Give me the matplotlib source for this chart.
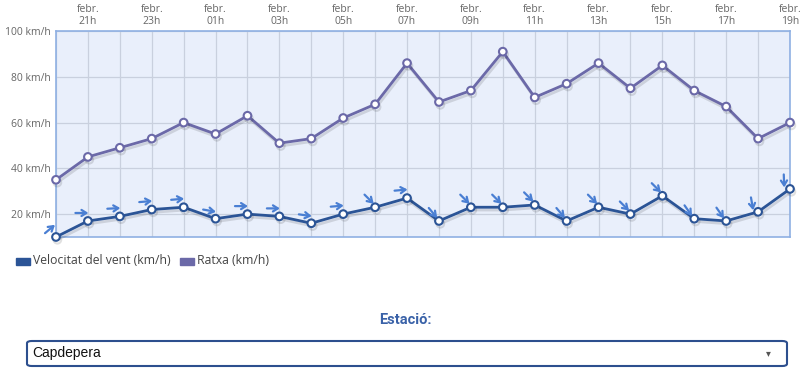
import matplotlib
matplotlib.use('Agg')
import matplotlib.pyplot as plt
import matplotlib.patheffects as pe
from matplotlib.patches import FancyBboxPatch, Rectangle
from matplotlib.transforms import offset_copy
import numpy as np

hores = ['20h', '21h', '22h', '23h', '00h', '01h', '02h', '03h', '04h', '05h', '06h', '07h',
         '08h', '09h', '10h', '11h', '12h', '13h', '14h', '15h', '16h', '17h', '18h', '19h']
velocitat = [10, 17, 19, 22, 23, 18, 20, 19, 16, 20, 23, 27,
             17, 23, 23, 24, 17, 23, 20, 28, 18, 17, 21, 31]
ratxa = [35, 45, 49, 53, 60, 55, 63, 51, 53, 62, 68, 86,
         69, 74, 91, 71, 77, 86, 75, 85, 74, 67, 53, 60]
# angle (graus) cap on apunta la fletxa de direccio
direccio = [40, 0, 3, 5, 5, -10, 0, 0, -8, 5, -45, 5,
            -50, -45, -45, -45, -50, -45, -45, -45, -55, -55, -80, -88]

C_VENT = '#2b5496'
C_RATXA = '#6b69a8'
C_FLETXA = '#4a7fd3'
C_TEXT = '#666666'

plt.rcParams['font.family'] = ['Open Sans', 'DejaVu Sans']

fig = plt.figure(figsize=(8, 3.7), dpi=100)
ax = fig.add_axes([0.07, 0.3595, 0.9175, 0.5565])
ax.set_facecolor('#e9effb')

x = np.arange(len(hores))
ombra = [pe.SimpleLineShadow(offset=(1, -2), alpha=0.12), pe.Normal()]
ax.plot(x, ratxa, color=C_RATXA, lw=2, marker='o', ms=5.5, mfc='white', mec=C_RATXA,
        mew=1.5, path_effects=ombra, zorder=3, clip_on=False)
ax.plot(x, velocitat, color=C_VENT, lw=2, marker='o', ms=5.5, mfc='white', mec=C_VENT,
        mew=1.5, path_effects=ombra, zorder=3, clip_on=False)

# fletxes de direccio del vent
L = 13
cx, cy = -6, 8
for xi, yi, a in zip(x, velocitat, direccio):
    dx, dy = np.cos(np.radians(a)) * L / 2, np.sin(np.radians(a)) * L / 2
    cap = offset_copy(ax.transData, fig=fig, x=cx + dx, y=cy + dy, units='dots')
    ax.annotate('', xy=(xi, yi), xycoords=cap, xytext=(-2 * dx, -2 * dy),
                textcoords='offset pixels',
                arrowprops=dict(arrowstyle='->,head_length=0.35,head_width=0.22',
                                color=C_FLETXA, lw=1.6, shrinkA=0, shrinkB=0),
                annotation_clip=False, zorder=4)

ax.set_xlim(0, len(hores) - 1)
ax.set_ylim(10, 100)
ax.set_xticks(x, minor=True)
ax.set_xticks(x[1::2])
ax.set_xticklabels(['febr.\n' + h for h in hores[1::2]], fontsize=7.5, color=C_TEXT,
                   linespacing=1.15)
ax.xaxis.tick_top()
ax.set_yticks([20, 40, 60, 80, 100])
ax.set_yticklabels([f'{v} km/h' for v in [20, 40, 60, 80, 100]], fontsize=7.5, color=C_TEXT)
ax.tick_params(which='both', length=0, pad=4)
ax.tick_params(axis='x', pad=3)
ax.grid(True, which='both', color='#c9d0de', lw=0.9)
ax.set_axisbelow(True)
for s in ax.spines.values():
    s.set_color('#8fb0e3')
    s.set_linewidth(1.2)

# llegenda
fig.patches.append(Rectangle((16 / 800, 1 - 265 / 370), 14 / 800, 7 / 370,
                             transform=fig.transFigure, color=C_VENT))
fig.text(33 / 800, 1 - 261 / 370, 'Velocitat del vent (km/h)', fontsize=8.8,
         color='#444444', va='center')
fig.patches.append(Rectangle((180 / 800, 1 - 265 / 370), 14 / 800, 7 / 370,
                             transform=fig.transFigure, color=C_RATXA))
fig.text(197 / 800, 1 - 261 / 370, 'Ratxa (km/h)', fontsize=8.8, color='#444444',
         va='center')

# selector d'estacio
fig.text(405 / 800, 1 - 320 / 370, 'Estació:', fontsize=10.5, fontweight='bold',
         color='#3a62a8', ha='center', va='center',
         family=['Liberation Sans Narrow', 'Roboto', 'DejaVu Sans'])
fig.patches.append(FancyBboxPatch((27 / 800, 1 - 366 / 370), 760 / 800, 25 / 370,
                                  boxstyle='round,pad=0,rounding_size=0.006',
                                  transform=fig.transFigure, facecolor='white',
                                  edgecolor='#2d4f8e', lw=1.5))
fig.text(32 / 800, 1 - 353 / 370, 'Capdepera', fontsize=10, color='#111111',
         va='center', family=['Liberation Sans Narrow', 'Liberation Sans', 'DejaVu Sans'])
fig.text(768 / 800, 1 - 353 / 370, '▾', fontsize=7, color='#555555', ha='center',
         va='center', family=['DejaVu Sans'])

fig.savefig('out.png', dpi=100)
